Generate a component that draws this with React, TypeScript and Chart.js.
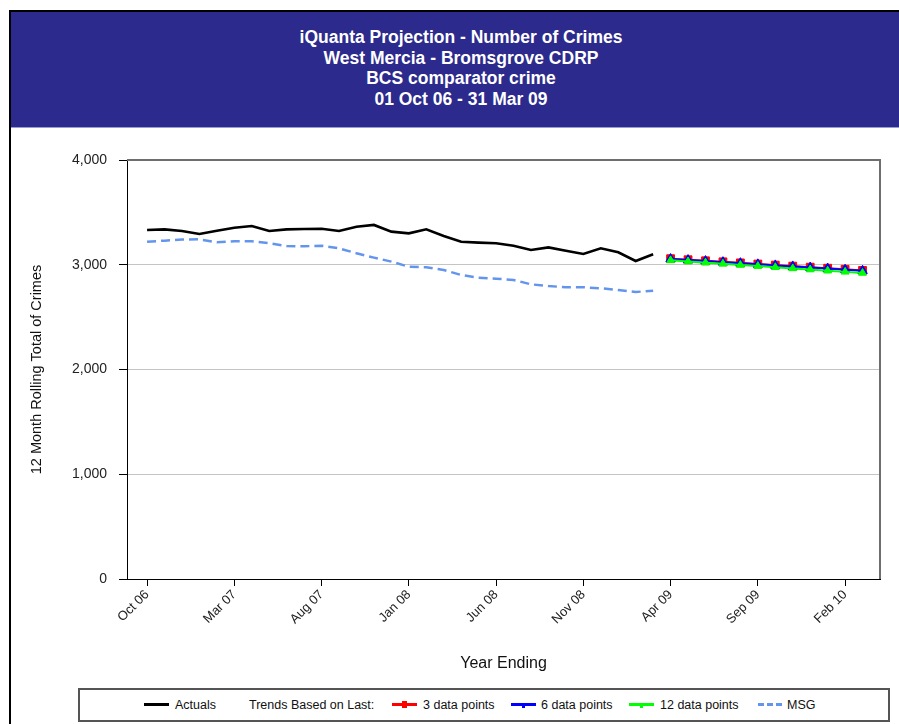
import React, { useEffect, useRef } from 'react';
import { Chart, registerables } from 'chart.js';

Chart.register(...registerables);

const months = [
  'Oct 06', 'Nov 06', 'Dec 06', 'Jan 07', 'Feb 07', 'Mar 07', 'Apr 07', 'May 07', 'Jun 07', 'Jul 07',
  'Aug 07', 'Sep 07', 'Oct 07', 'Nov 07', 'Dec 07', 'Jan 08', 'Feb 08', 'Mar 08', 'Apr 08', 'May 08',
  'Jun 08', 'Jul 08', 'Aug 08', 'Sep 08', 'Oct 08', 'Nov 08', 'Dec 08', 'Jan 09', 'Feb 09', 'Mar 09',
  'Apr 09', 'May 09', 'Jun 09', 'Jul 09', 'Aug 09', 'Sep 09', 'Oct 09', 'Nov 09', 'Dec 09', 'Jan 10',
  'Feb 10', 'Mar 10',
];

const actuals = [
  3332, 3338, 3322, 3294, 3325, 3354, 3370, 3322, 3338, 3341,
  3344, 3322, 3363, 3380, 3316, 3300, 3338, 3275, 3220, 3211,
  3205, 3182, 3141, 3166, 3134, 3103, 3157, 3119, 3036, 3100,
];

const msg = [
  3220, 3230, 3240, 3243, 3214, 3224, 3224, 3205, 3179, 3176,
  3182, 3157, 3109, 3068, 3030, 2981, 2975, 2950, 2902, 2877,
  2867, 2855, 2813, 2797, 2785, 2785, 2775, 2759, 2740, 2752,
];

const trend3 = [3058, 3048, 3038, 3028, 3018, 3007, 2997, 2987, 2977, 2967, 2957, 2946];
const trend6 = [3055, 3045, 3035, 3025, 3015, 3004, 2994, 2984, 2974, 2964, 2953, 2943];
const trend12 = [3042, 3031, 3020, 3009, 2998, 2987, 2976, 2965, 2954, 2943, 2932, 2921];

const projectionStart = 30;
const xTickIndices = [0, 5, 10, 15, 20, 25, 30, 35, 40];
const yTickValues = [0, 1000, 2000, 3000, 4000];

const titleLines = [
  'iQuanta Projection - Number of Crimes',
  'West Mercia - Bromsgrove CDRP',
  'BCS comparator crime',
  '01 Oct 06 - 31 Mar 09',
];

const FONT = '"Liberation Sans", Arial, Helvetica, sans-serif';

const toPoints = (arr: number[], start: number) => arr.map((y, i) => ({ x: start + i, y }));

export default function App() {
  const canvasRef = useRef<HTMLCanvasElement>(null);

  useEffect(() => {
    document.body.style.margin = '0';
    document.body.style.overflow = 'hidden';
    const el = canvasRef.current;
    if (!el) return;

    const framePlugin = {
      id: 'plotFrame',
      afterDraw(chart: any) {
        const { ctx, chartArea } = chart;
        const { left, top, right, bottom } = chartArea;
        ctx.save();
        ctx.strokeStyle = '#6e6e6e';
        ctx.lineWidth = 2;
        ctx.beginPath();
        ctx.moveTo(left, top);
        ctx.lineTo(right, top);
        ctx.lineTo(right, bottom);
        ctx.stroke();
        ctx.restore();
      },
    };

    const chart = new Chart(el, {
      type: 'line',
      data: {
        datasets: [
          {
            label: '12 data points',
            data: toPoints(trend12, projectionStart),
            borderColor: '#00ff00',
            backgroundColor: '#00ff00',
            borderWidth: 2,
            pointStyle: 'triangle',
            pointRadius: 4.5,
            pointBorderWidth: 1,
            order: 1,
          },
          {
            label: '6 data points',
            data: toPoints(trend6, projectionStart),
            borderColor: '#0000ff',
            backgroundColor: '#0000ff',
            borderWidth: 2,
            pointStyle: 'triangle',
            pointRadius: 5.5,
            pointBorderWidth: 1,
            order: 2,
          },
          {
            label: '3 data points',
            data: toPoints(trend3, projectionStart),
            borderColor: '#ff0000',
            backgroundColor: '#ff0000',
            borderWidth: 2,
            pointStyle: 'rect',
            pointRadius: 5.5,
            pointBorderWidth: 1,
            order: 3,
          },
          {
            label: 'Actuals',
            data: toPoints(actuals, 0),
            borderColor: '#000000',
            borderWidth: 2.6,
            pointRadius: 0,
            order: 4,
          },
          {
            label: 'MSG',
            data: toPoints(msg, 0),
            borderColor: '#6495ed',
            borderWidth: 2.5,
            borderDash: [9, 5],
            pointRadius: 0,
            order: 5,
          },
        ],
      },
      options: {
        responsive: true,
        maintainAspectRatio: false,
        animation: false,
        layout: { padding: { top: 32, right: 19, left: 0, bottom: 0 } },
        elements: { line: { tension: 0 } },
        plugins: {
          legend: { display: false },
          tooltip: { enabled: false },
          title: { display: false },
        },
        scales: {
          x: {
            type: 'linear',
            min: -1.15,
            max: 42,
            afterBuildTicks: (scale: any) => {
              scale.ticks = xTickIndices.map((v) => ({ value: v }));
            },
            afterFit: (scale: any) => {
              scale.height = 107;
              scale.paddingLeft = 0;
              scale.paddingRight = 0;
            },
            ticks: {
              autoSkip: false,
              minRotation: 45,
              maxRotation: 45,
              padding: 1,
              color: '#222',
              font: { family: FONT, size: 13 },
              callback: (v: any) => months[Number(v)] ?? '',
            },
            grid: {
              drawOnChartArea: false,
              drawTicks: true,
              tickLength: 7,
              tickColor: '#000',
              color: '#000',
            },
            border: { display: true, color: '#000', width: 1 },
            title: {
              display: true,
              text: 'Year Ending',
              color: '#111',
              font: { family: FONT, size: 16 },
              padding: { top: 0, bottom: 13 },
            },
          },
          y: {
            min: 0,
            max: 4000,
            afterBuildTicks: (scale: any) => {
              scale.ticks = yTickValues.map((v) => ({ value: v }));
            },
            afterFit: (scale: any) => {
              scale.width = 116;
            },
            ticks: {
              padding: 12,
              color: '#222',
              font: { family: FONT, size: 14 },
              callback: (v: any) => Number(v).toLocaleString('en-US'),
            },
            grid: {
              color: (c: any) =>
                c.tick && (c.tick.value === 0 || c.tick.value === 4000) ? 'rgba(0,0,0,0)' : '#c4c4c4',
              tickColor: '#000',
              tickLength: 8,
              lineWidth: 1,
            },
            border: { display: true, color: '#000', width: 1 },
            title: {
              display: true,
              text: '12 Month Rolling Total of Crimes',
              color: '#111',
              font: { family: FONT, size: 14.5 },
              padding: { top: 17, bottom: 0 },
            },
          },
        },
      },
      plugins: [framePlugin],
    } as any);

    return () => chart.destroy();
  }, []);

  const legendText = (left: number, text: string) => (
    <div
      style={{
        position: 'absolute',
        left,
        top: 697,
        height: 16,
        lineHeight: '16px',
        fontSize: 12.5,
        fontFamily: FONT,
        color: '#111',
        whiteSpace: 'nowrap',
      }}
    >
      {text}
    </div>
  );

  const legendLine = (left: number, color: string, marker?: 'plus' | 'down' | 'up') => (
    <div style={{ position: 'absolute', left, top: 703, width: 25, height: 3, background: color }}>
      {marker === 'plus' && (
        <div style={{ position: 'absolute', left: 10, top: -2, width: 5, height: 7, background: color }} />
      )}
      {marker === 'down' && (
        <div style={{ position: 'absolute', left: 11, top: 1, width: 3, height: 4, background: color }} />
      )}
      {marker === 'up' && (
        <div style={{ position: 'absolute', left: 11, top: 1, width: 3, height: 4, background: color }} />
      )}
    </div>
  );

  return (
    <div style={{ position: 'relative', width: 899, height: 724, overflow: 'hidden', background: '#fff' }}>
      <div style={{ position: 'absolute', left: 9, top: 10, width: 890, height: 2, background: '#000' }} />
      <div style={{ position: 'absolute', left: 9, top: 10, width: 2, height: 714, background: '#000' }} />
      <div
        style={{
          position: 'absolute',
          left: 11,
          top: 12,
          width: 888,
          height: 115,
          background: '#2c2a8c',
          color: '#fff',
          fontFamily: FONT,
          fontWeight: 'bold',
          fontSize: 17.5,
          lineHeight: '20.7px',
          textAlign: 'center',
          paddingTop: 15,
          paddingLeft: 12,
          boxSizing: 'border-box',
        }}
      >
        {titleLines.map((t) => (
          <div key={t}>{t}</div>
        ))}
      </div>
      <div style={{ position: 'absolute', left: 11, top: 127, width: 888, height: 1, background: '#9a9ad6' }} />

      <div style={{ position: 'absolute', left: 11, top: 128, width: 888, height: 558 }}>
        <canvas ref={canvasRef} />
      </div>

      <div
        style={{
          position: 'absolute',
          left: 78,
          top: 688,
          width: 812,
          height: 34,
          border: '2px solid #555',
          boxSizing: 'border-box',
        }}
      />
      {legendLine(144, '#000')}
      {legendText(175, 'Actuals')}
      {legendText(249, 'Trends Based on Last:')}
      {legendLine(392, '#ff0000', 'plus')}
      {legendText(423, '3 data points')}
      {legendLine(511, '#0000ff', 'down')}
      {legendText(541, '6 data points')}
      {legendLine(629, '#00ff00', 'up')}
      {legendText(660, '12 data points')}
      <div
        style={{
          position: 'absolute',
          left: 758,
          top: 703,
          width: 24,
          height: 3,
          background: 'repeating-linear-gradient(to right, #6495ed 0 6px, transparent 6px 9px)',
        }}
      />
      {legendText(787, 'MSG')}
    </div>
  );
}
